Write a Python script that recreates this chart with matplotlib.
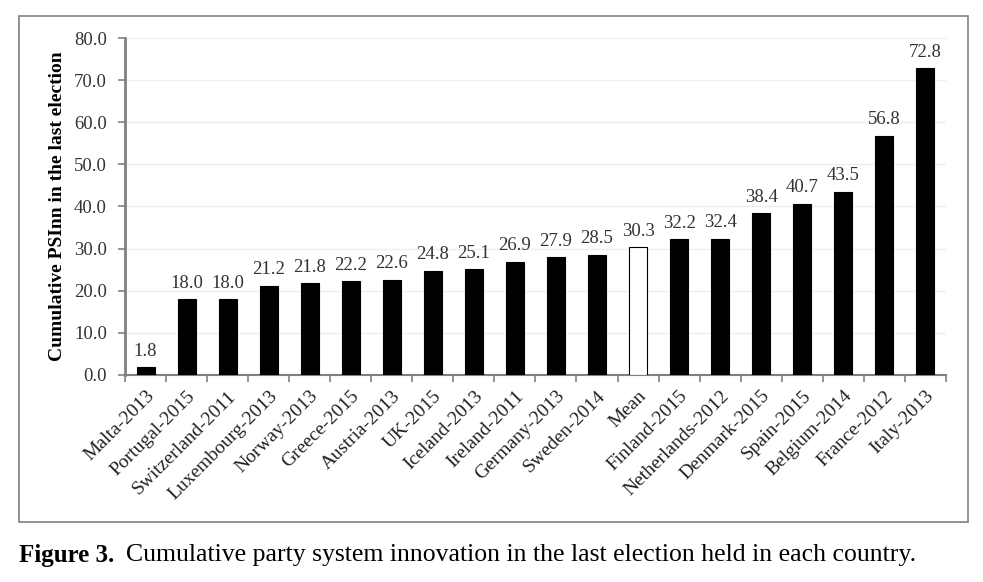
import matplotlib.pyplot as plt
import numpy as np
from matplotlib.patches import Rectangle

countries = ['Malta-2013', 'Portugal-2015', 'Switzerland-2011', 'Luxembourg-2013',
             'Norway-2013', 'Greece-2015', 'Austria-2013', 'UK-2015', 'Iceland-2013',
             'Ireland-2011', 'Germany-2013', 'Sweden-2014', 'Mean', 'Finland-2015',
             'Netherlands-2012', 'Denmark-2015', 'Spain-2015', 'Belgium-2014',
             'France-2012', 'Italy-2013']
psinn = [1.8, 18.0, 18.0, 21.2, 21.8, 22.2, 22.6, 24.8, 25.1, 26.9, 27.9, 28.5,
         30.3, 32.2, 32.4, 38.4, 40.7, 43.5, 56.8, 72.8]
yticks = [0, 10, 20, 30, 40, 50, 60, 70, 80]

plt.rcParams['font.family'] = ['Liberation Serif', 'DejaVu Serif']

fig = plt.figure(figsize=(9.83, 5.82), dpi=100)

# 外框
fig.patches.append(Rectangle((0.0193, 0.1031), 0.9654, 0.8694, transform=fig.transFigure,
                             fill=False, edgecolor='#808080', linewidth=1.2))

ax = fig.add_axes([0.1272, 0.3557, 0.835, 0.579])
x = np.arange(len(countries))
colors = ['white' if c == 'Mean' else 'black' for c in countries]
bars = ax.bar(x, psinn, width=0.44, color=colors, edgecolor='black', linewidth=0.8, zorder=3)

for xi, v in zip(x, psinn):
    ax.text(xi, v + 1.8, f'{v:.1f}', ha='center', va='bottom', fontsize=13.5, color='#333333')

ax.set_xlim(-0.5, len(countries) - 0.5)
ax.set_ylim(0, 80)
ax.set_yticks(yticks)
ax.set_yticklabels([f'{t:.1f}' for t in yticks], fontsize=13.5, color='#333333')
ax.yaxis.grid(True, color='#eeeeee', linewidth=1)
ax.set_axisbelow(True)

ax.set_xticks(x)
ax.set_xticklabels(countries, rotation=45, ha='right', rotation_mode='anchor',
                   fontsize=14, color='#222222')
ax.tick_params(axis='x', which='major', length=0, pad=9)
ax.set_xticks(np.arange(-0.5, len(countries)), minor=True)
ax.tick_params(axis='x', which='minor', length=5, color='#808080', width=1.2)
ax.tick_params(axis='y', length=5, color='#808080', width=1.2, pad=8)

for s in ['top', 'right']:
    ax.spines[s].set_visible(False)
ax.spines['left'].set_color('#808080')
ax.spines['left'].set_linewidth(2)
ax.spines['bottom'].set_color('#808080')
ax.spines['bottom'].set_linewidth(1.5)

ax.set_ylabel('Cumulative PSInn in the last election', fontsize=14, fontweight='bold', labelpad=6)

fig.text(0.0193, 0.046, 'Figure 3.', fontsize=18, fontweight='bold', va='center')
fig.text(0.128, 0.046, 'Cumulative party system innovation in the last election held in each country.',
         fontsize=18.5, va='center')

fig.savefig('out.png', dpi=100)
